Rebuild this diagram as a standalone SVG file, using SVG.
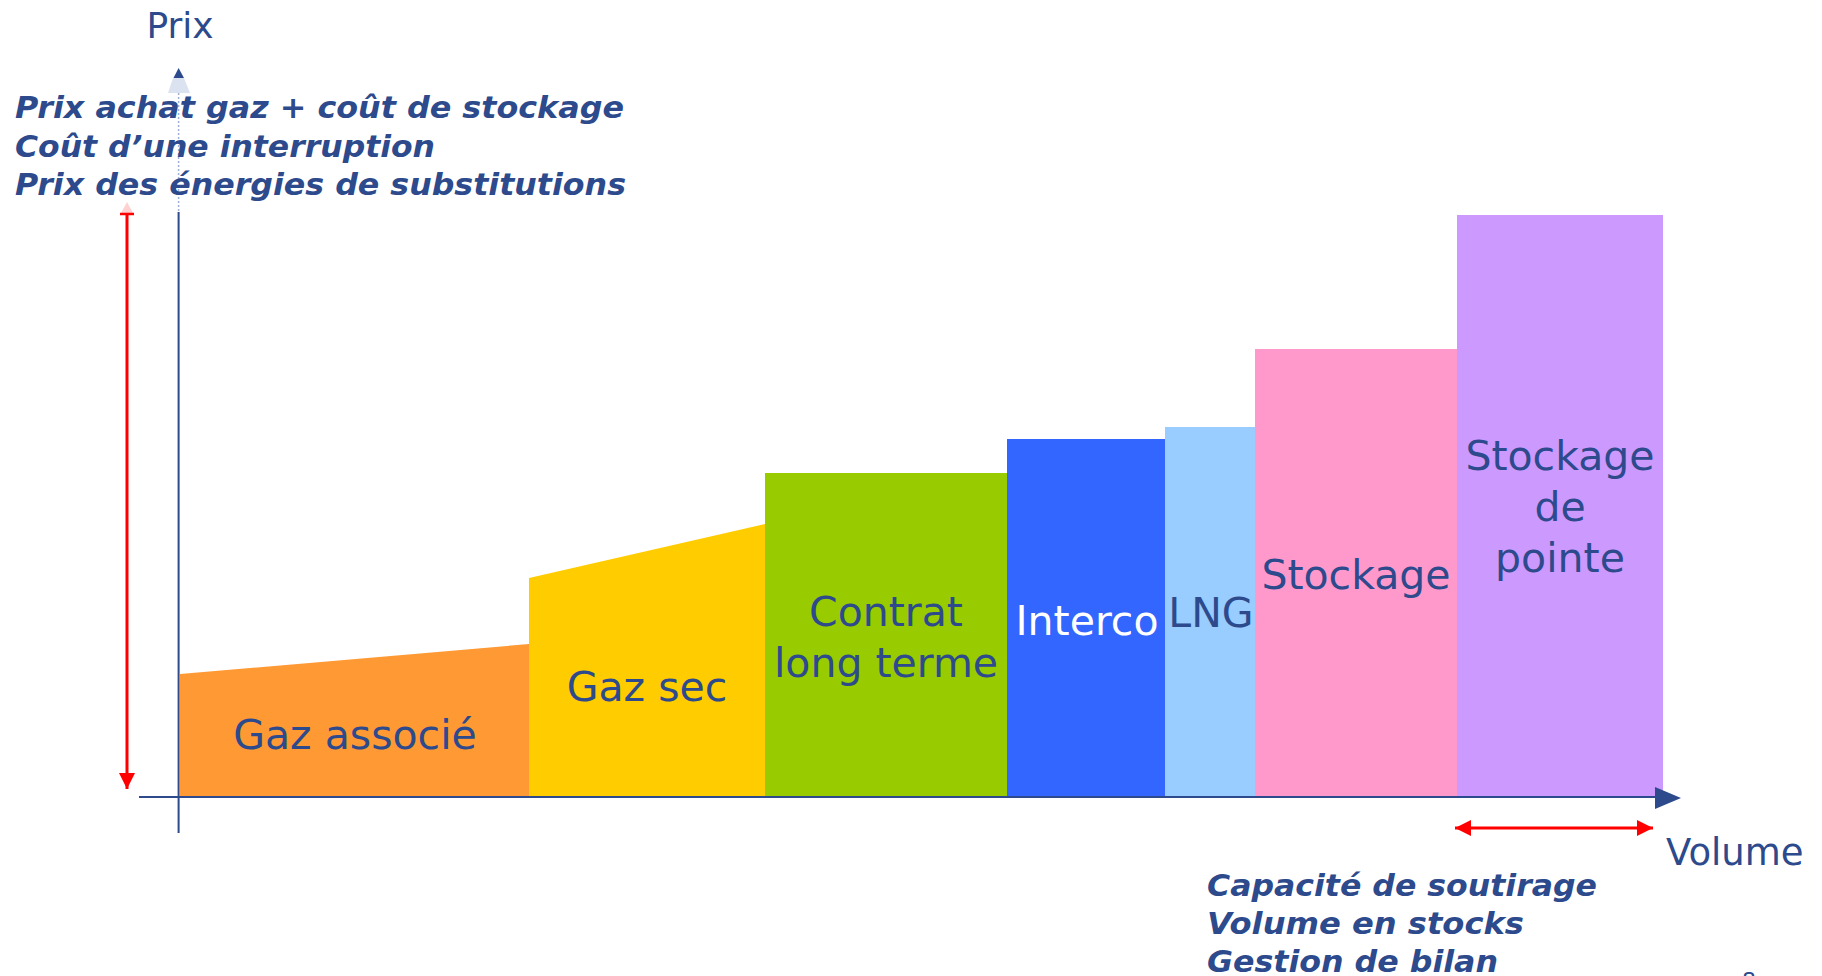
<svg xmlns="http://www.w3.org/2000/svg" width="1822" height="976" viewBox="0 0 1822 976">
<style>
.lbl{font-family:"DejaVu Sans","Verdana",sans-serif;font-size:41px;fill:#2C4A8C;text-anchor:middle}
.ax{font-family:"DejaVu Sans","Verdana",sans-serif;fill:#2C4A8C}
.note{font-family:"DejaVu Sans","Verdana",sans-serif;font-size:29.5px;font-weight:bold;font-style:oblique;fill:#2C4A8C}
.axis{stroke:#2C4A8C;stroke-width:2;fill:none}
.red{stroke:#FF0000;stroke-width:3;fill:none}
</style>
<defs>
<marker id="redHead" viewBox="0 0 16 16" refX="16" refY="8" markerWidth="16" markerHeight="16" markerUnits="userSpaceOnUse" orient="auto-start-reverse">
<path d="M0,0 L16,8 L0,16 Z" fill="#FF0000"/>
</marker>
</defs>
<rect width="1822" height="976" fill="#FFFFFF"/>

<g id="gaz-associe">
<polygon points="180,674 529,644 529,797 180,797" fill="#FF9933"/>
<text class="lbl" x="355" y="749">Gaz associé</text>
</g>
<g id="gaz-sec">
<polygon points="529,578 765,524 765,797 529,797" fill="#FFCC00"/>
<text class="lbl" x="647" y="701">Gaz sec</text>
</g>
<g id="contrat-long-terme">
<rect x="765" y="473" width="242" height="324" fill="#99CC00"/>
<text class="lbl" x="886" y="626">Contrat</text>
<text class="lbl" x="886" y="677">long terme</text>
</g>
<g id="interco">
<rect x="1007" y="439" width="158" height="358" fill="#3366FF"/>
<text class="lbl" x="1087" y="635" style="fill:#FFFFFF">Interco</text>
</g>
<g id="lng">
<rect x="1165" y="427" width="90" height="370" fill="#99CCFF"/>
<text class="lbl" x="1211" y="627">LNG</text>
</g>
<g id="stockage">
<rect x="1255" y="349" width="202" height="448" fill="#FF99CC"/>
<text class="lbl" x="1356" y="589">Stockage</text>
</g>
<g id="stockage-de-pointe">
<rect x="1457" y="215" width="206" height="582" fill="#CC99FF"/>
<text class="lbl" x="1560" y="470">Stockage</text>
<text class="lbl" x="1560" y="521">de</text>
<text class="lbl" x="1560" y="572">pointe</text>
</g>

<g id="connectors">
<line x1="178.6" y1="93" x2="178.6" y2="212" stroke="#9FB0D5" stroke-width="1.5" stroke-dasharray="2,2"/>
<line class="axis" x1="178.6" y1="212" x2="178.6" y2="833"/>
<polygon points="168,93 190,93 184,78 173,78" fill="#AFC0DE" fill-opacity="0.45"/>
<polygon points="173.5,78 184,78 178.6,68" fill="#2C4A8C"/>
<line class="axis" x1="139" y1="797" x2="1657" y2="797"/>
<polygon points="1655,787 1681,798 1655,809" fill="#2C4A8C"/>
<polygon points="121,213 133,213 127,202" fill="#FF9999" fill-opacity="0.45"/>
<line x1="120" y1="214" x2="134" y2="214" stroke="#FF0000" stroke-width="2.5"/>
<line class="red" x1="127" y1="214" x2="127" y2="789" marker-end="url(#redHead)"/>
<line class="red" x1="1455" y1="828" x2="1653" y2="828" marker-start="url(#redHead)" marker-end="url(#redHead)"/>
</g>

<g id="axis-labels">
<text class="ax" x="180" y="38" font-size="36" text-anchor="middle">Prix</text>
<text class="ax" x="1666" y="865" font-size="37">Volume</text>
</g>

<g id="price-notes">
<text class="note" x="15" y="118" textLength="609" lengthAdjust="spacingAndGlyphs">Prix achat gaz + coût de stockage</text>
<text class="note" x="15" y="157" textLength="420" lengthAdjust="spacingAndGlyphs">Coût d’une interruption</text>
<text class="note" x="15" y="195" textLength="611" lengthAdjust="spacingAndGlyphs">Prix des énergies de substitutions</text>
</g>

<g id="volume-notes">
<text class="note" x="1207" y="896" textLength="390" lengthAdjust="spacingAndGlyphs">Capacité de soutirage</text>
<text class="note" x="1207" y="934" textLength="317" lengthAdjust="spacingAndGlyphs">Volume en stocks</text>
<text class="note" x="1207" y="972" textLength="291" lengthAdjust="spacingAndGlyphs">Gestion de bilan</text>
</g>

<text class="ax" x="1749" y="988" font-size="22" text-anchor="middle">8</text>
</svg>
